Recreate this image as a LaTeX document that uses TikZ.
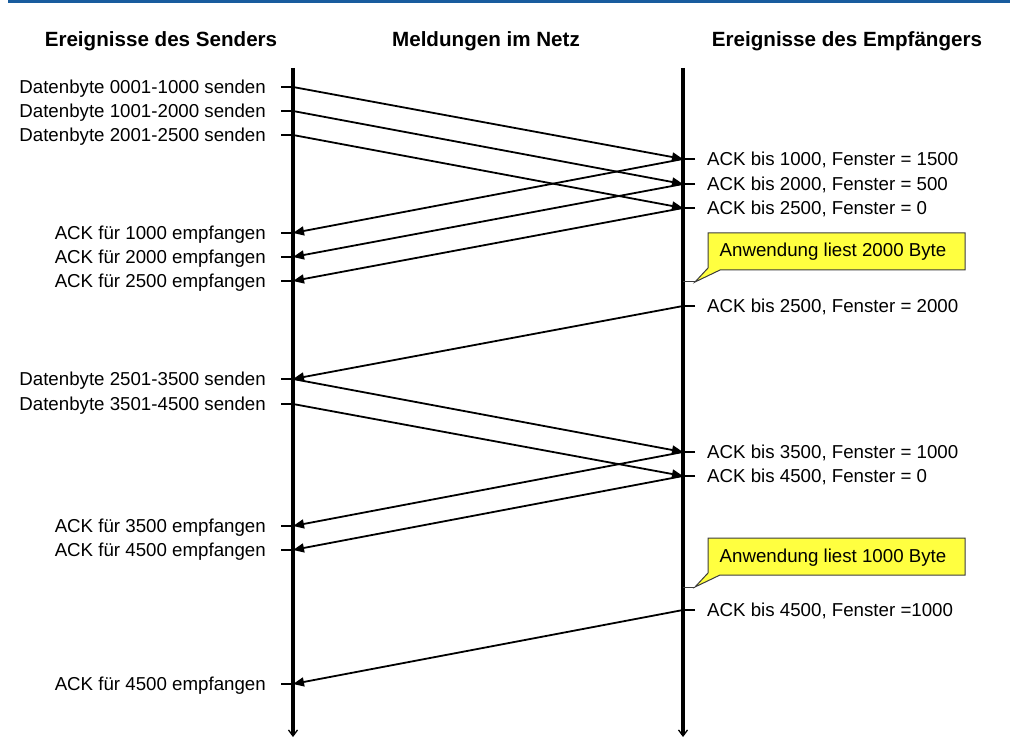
\documentclass[tikz,border=0pt]{standalone}
\usepackage{fontspec}
\setmainfont{Liberation Sans}
\usetikzlibrary{arrows.meta}
\definecolor{topblue}{RGB}{24,92,158}
\definecolor{callyellow}{RGB}{255,255,64}
\definecolor{callborder}{RGB}{60,60,60}
\begin{document}
\begin{tikzpicture}[x=1pt,y=-1pt,
  font=\fontsize{18.7pt}{20pt}\selectfont,
  timeline/.style={line width=3.2pt,-{Straight Barb[length=6pt,width=9pt,line width=1.3pt]}},
  msg/.style={line width=1.8pt,-{Triangle[length=11pt,width=9pt]}},
  tickline/.style={line width=1.4pt},
  llbl/.style={anchor=base east,inner sep=0pt,yshift=-6.5pt},
  rlbl/.style={anchor=base west,inner sep=0pt,yshift=-6.5pt},
  header/.style={anchor=base,inner sep=0pt,font=\fontsize{20.6pt}{22pt}\selectfont\bfseries},
  callout/.style={fill=callyellow,draw=callborder,line width=1pt},
  calltext/.style={inner sep=0pt,anchor=base}
]
\useasboundingbox (0,0) rectangle (1010,738);
\fill[topblue] (8,0) rectangle (1010,3);

% headers
\node[header] (h1) at (161,47) {Ereignisse des Senders};
\node[header] (h2) at (486,47) {Meldungen im Netz};
\node[header] (h3) at (847,47) {Ereignisse des Empfängers};

% timelines
\coordinate (stop) at (293,68);
\coordinate (sbot) at (293,737);
\coordinate (rtop) at (683,68);
\coordinate (rbot) at (683,737);
\draw[timeline] (stop) -- (sbot);
\draw[timeline] (rtop) -- (rbot);

% sender events
\foreach \n/\y/\t in {1/87/{Datenbyte 0001-1000 senden},
                      2/111/{Datenbyte 1001-2000 senden},
                      3/135/{Datenbyte 2001-2500 senden},
                      4/233/{ACK für 1000 empfangen},
                      5/257/{ACK für 2000 empfangen},
                      6/281/{ACK für 2500 empfangen},
                      7/379/{Datenbyte 2501-3500 senden},
                      8/404/{Datenbyte 3501-4500 senden},
                      9/526/{ACK für 3500 empfangen},
                      10/550/{ACK für 4500 empfangen},
                      11/684/{ACK für 4500 empfangen}}{
  \coordinate (L\n) at (293,\y);
  \coordinate (Lt\n) at (281,\y);
  \node[llbl] (ll\n) at (266,\y) {\t};
  \draw[tickline] (Lt\n) -- (L\n);
}

% receiver events
\foreach \n/\y/\t in {1/159/{ACK bis 1000, Fenster = 1500},
                      2/184/{ACK bis 2000, Fenster = 500},
                      3/208/{ACK bis 2500, Fenster = 0},
                      4/306/{ACK bis 2500, Fenster = 2000},
                      5/452/{ACK bis 3500, Fenster = 1000},
                      6/476/{ACK bis 4500, Fenster = 0},
                      7/610/{ACK bis 4500, Fenster =1000}}{
  \coordinate (R\n) at (683,\y);
  \coordinate (Rt\n) at (695,\y);
  \node[rlbl] (rl\n) at (707,\y) {\t};
  \draw[tickline] (Rt\n) -- (R\n);
}

% messages
\draw[msg] (L1) -- (R1);
\draw[msg] (L2) -- (R2);
\draw[msg] (L3) -- (R3);
\draw[msg] (R1) -- (L4);
\draw[msg] (R2) -- (L5);
\draw[msg] (R3) -- (L6);
\draw[msg] (R4) -- (L7);
\draw[msg] (L7) -- (R5);
\draw[msg] (L8) -- (R6);
\draw[msg] (R5) -- (L9);
\draw[msg] (R6) -- (L10);
\draw[msg] (R7) -- (L11);

% callouts
\foreach \n/\y/\t in {1/233/{Anwendung liest 2000 Byte},2/538/{Anwendung liest 1000 Byte}}{
  \draw[callout] (708,\y) -- (965,\y) -- (965,\y+37) -- (720,\y+37)
     -- (695,\y+49) -- (708,\y+35) -- cycle;
  \node[calltext] (ct\n) at (833,\y+24) {\t};
  \coordinate (C\n) at (683,\y+49);
  \coordinate (Ct\n) at (695,\y+49);
  \draw[callborder,line width=1pt] (C\n) -- (Ct\n);
}
\end{tikzpicture}
\end{document}
